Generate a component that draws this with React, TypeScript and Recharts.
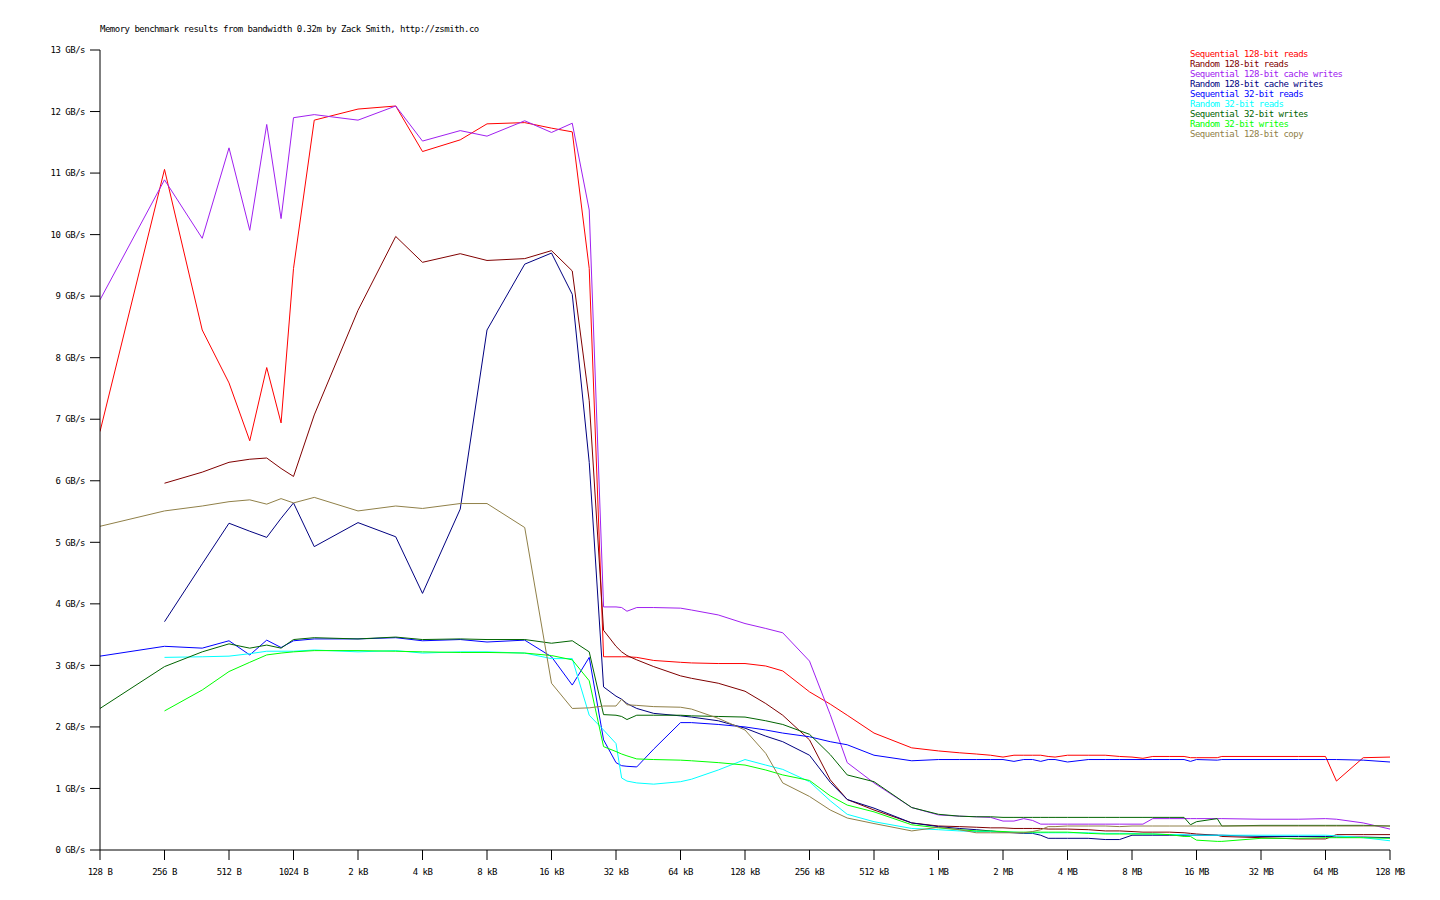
import { LineChart, Line, XAxis, YAxis } from "recharts"

const KB = 1024
const MB = 1024 * 1024

// chunk sizes used by the benchmark (bytes)
const chunkSizes = [
  128, 256, 384, 512, 640, 768, 896, 1024, 1280,
  2048, 3072, 4096, 6144, 8192, 12288, 16384, 20480, 24576, 28672, 32768,
  34 * KB, 36 * KB, 40 * KB, 48 * KB, 64 * KB, 72 * KB, 96 * KB, 128 * KB, 160 * KB, 192 * KB, 256 * KB, 320 * KB, 384 * KB, 512 * KB, 768 * KB,
  1 * MB, 1.25 * MB, 1.5 * MB, 1.75 * MB, 2 * MB, 2.25 * MB, 2.5 * MB, 2.75 * MB, 3 * MB, 3.25 * MB, 3.5 * MB, 4 * MB,
  5 * MB, 6 * MB, 7 * MB, 8 * MB, 9 * MB, 10 * MB, 12 * MB, 14 * MB, 15 * MB, 16 * MB,
  20 * MB, 21 * MB, 32 * MB, 48 * MB, 64 * MB, 72 * MB, 96 * MB, 128 * MB,
]

const xTicks = [
  128, 256, 512, 1024, 2 * KB, 4 * KB, 8 * KB, 16 * KB, 32 * KB, 64 * KB, 128 * KB, 256 * KB, 512 * KB,
  1 * MB, 2 * MB, 4 * MB, 8 * MB, 16 * MB, 32 * MB, 64 * MB, 128 * MB,
]
const xTickLabels = [
  "128 B", "256 B", "512 B", "1024 B", "2 kB", "4 kB", "8 kB", "16 kB", "32 kB", "64 kB", "128 kB", "256 kB", "512 kB",
  "1 MB", "2 MB", "4 MB", "8 MB", "16 MB", "32 MB", "64 MB", "128 MB",
]
const yTicks = [0, 1, 2, 3, 4, 5, 6, 7, 8, 9, 10, 11, 12, 13]

// GB/s
const seqRead128 = [
  6.8, 11.06, 8.45, 7.59, 6.65, 7.84, 6.94, 9.45, 11.86,
  12.04, 12.09, 11.35, 11.54, 11.8, 11.82, 11.73, 11.67, 9.45, 3.14, 3.14,
  3.14, 3.14, 3.13, 3.08, 3.05, 3.04, 3.03, 3.03, 2.99, 2.91, 2.57, 2.37, 2.19, 1.9, 1.66,
  1.61, 1.58, 1.56, 1.54, 1.51, 1.54, 1.54, 1.54, 1.54, 1.52, 1.51, 1.54,
  1.54, 1.54, 1.52, 1.51, 1.49, 1.52, 1.52, 1.52, 1.5, 1.5,
  1.5, 1.52, 1.52, 1.52, 1.52, 1.12, 1.5, 1.51,
]
const randRead128 = [
  null, 5.96, 6.14, 6.3, 6.35, 6.37, 6.2, 6.07, 7.07,
  8.77, 9.97, 9.55, 9.69, 9.58, 9.61, 9.74, 9.41, 7.3, 3.57, 3.31,
  3.22, 3.16, 3.09, 2.98, 2.83, 2.79, 2.71, 2.58, 2.38, 2.19, 1.79, 1.14, 0.82, 0.65, 0.44,
  0.39, 0.38, 0.37, 0.36, 0.36, 0.35, 0.35, 0.35, 0.35, 0.34, 0.34, 0.34,
  0.33, 0.31, 0.31, 0.3, 0.29, 0.29, 0.29, 0.28, 0.27, 0.26,
  0.24, 0.22, 0.2, 0.18, 0.18, 0.25, 0.25, 0.25,
]
const seqCacheWrite128 = [
  8.94, 10.89, 9.94, 11.41, 10.07, 11.79, 10.26, 11.9, 11.95,
  11.86, 12.09, 11.52, 11.69, 11.6, 11.85, 11.66, 11.81, 10.4, 3.95, 3.95,
  3.94, 3.88, 3.94, 3.94, 3.93, 3.9, 3.82, 3.68, 3.6, 3.53, 3.07, 2.2, 1.42, 1.09, 0.69,
  0.57, 0.55, 0.54, 0.53, 0.47, 0.47, 0.51, 0.48, 0.42, 0.42, 0.42, 0.42,
  0.42, 0.42, 0.42, 0.42, 0.42, 0.51, 0.51, 0.51, 0.51, 0.51,
  0.51, 0.51, 0.5, 0.5, 0.51, 0.5, 0.44, 0.34,
]
const randCacheWrite128 = [
  null, 3.71, 4.65, 5.31, 5.18, 5.08, 5.39, 5.64, 4.93,
  5.32, 5.09, 4.17, 5.54, 8.45, 9.52, 9.7, 9.03, 6.3, 2.65, 2.5,
  2.45, 2.38, 2.3, 2.22, 2.18, 2.16, 2.1, 1.98, 1.85, 1.76, 1.54, 1.1, 0.82, 0.68, 0.44,
  0.38, 0.35, 0.33, 0.31, 0.29, 0.28, 0.27, 0.27, 0.24, 0.19, 0.19, 0.19,
  0.19, 0.17, 0.17, 0.24, 0.24, 0.24, 0.24, 0.24, 0.24, 0.24,
  0.24, 0.24, 0.22, 0.22, 0.22, 0.21, 0.21, 0.2,
]
const seqRead32 = [
  3.15, 3.31, 3.28, 3.4, 3.17, 3.41, 3.29, 3.4, 3.43,
  3.43, 3.45, 3.4, 3.42, 3.38, 3.41, 3.14, 2.68, 3.13, 1.79, 1.42,
  1.37, 1.36, 1.35, 1.64, 2.07, 2.07, 2.04, 2.0, 1.95, 1.9, 1.84, 1.76, 1.71, 1.54, 1.45,
  1.47, 1.47, 1.47, 1.47, 1.47, 1.44, 1.47, 1.47, 1.44, 1.47, 1.47, 1.43,
  1.47, 1.47, 1.47, 1.47, 1.47, 1.47, 1.47, 1.47, 1.44, 1.47,
  1.46, 1.47, 1.47, 1.47, 1.47, 1.47, 1.46, 1.43,
]
const randRead32 = [
  null, 3.13, 3.14, 3.15, 3.19, 3.23, 3.23, 3.23, 3.25,
  3.22, 3.24, 3.2, 3.22, 3.22, 3.2, 3.11, 3.11, 2.19, 1.95, 1.73,
  1.17, 1.12, 1.09, 1.07, 1.11, 1.15, 1.3, 1.47, 1.38, 1.31, 1.11, 0.8, 0.58, 0.46, 0.35,
  0.33, 0.31, 0.3, 0.3, 0.29, 0.29, 0.28, 0.28, 0.28, 0.28, 0.28, 0.28,
  0.28, 0.27, 0.27, 0.27, 0.26, 0.26, 0.25, 0.25, 0.24, 0.24,
  0.24, 0.24, 0.24, 0.24, 0.24, 0.23, 0.2, 0.15,
]
const seqWrite32 = [
  2.3, 2.98, 3.22, 3.35, 3.28, 3.33, 3.28, 3.42, 3.45,
  3.43, 3.46, 3.42, 3.43, 3.42, 3.42, 3.36, 3.4, 3.22, 2.2, 2.19,
  2.17, 2.12, 2.19, 2.19, 2.19, 2.18, 2.17, 2.16, 2.1, 2.04, 1.88, 1.55, 1.22, 1.11, 0.69,
  0.58, 0.55, 0.54, 0.54, 0.53, 0.53, 0.53, 0.53, 0.53, 0.53, 0.53, 0.53,
  0.53, 0.53, 0.53, 0.53, 0.53, 0.53, 0.53, 0.53, 0.41, 0.46,
  0.51, 0.39, 0.4, 0.4, 0.4, 0.4, 0.4, 0.39,
]
const randWrite32 = [
  null, 2.26, 2.6, 2.9, 3.05, 3.17, 3.2, 3.22, 3.24,
  3.24, 3.23, 3.22, 3.21, 3.21, 3.2, 3.16, 3.09, 2.75, 1.68, 1.6,
  1.56, 1.53, 1.48, 1.47, 1.46, 1.45, 1.42, 1.38, 1.3, 1.22, 1.13, 0.88, 0.73, 0.62, 0.41,
  0.36, 0.33, 0.31, 0.31, 0.3, 0.29, 0.29, 0.29, 0.29, 0.29, 0.29, 0.29,
  0.27, 0.26, 0.26, 0.26, 0.26, 0.26, 0.25, 0.22, 0.22, 0.16,
  0.14, 0.14, 0.19, 0.19, 0.2, 0.2, 0.2, 0.19,
]
const copy128 = [
  5.26, 5.51, 5.59, 5.66, 5.69, 5.62, 5.71, 5.64, 5.73,
  5.51, 5.59, 5.55, 5.63, 5.63, 5.24, 2.71, 2.3, 2.31, 2.34, 2.34,
  2.45, 2.36, 2.35, 2.33, 2.32, 2.29, 2.14, 1.95, 1.57, 1.09, 0.87, 0.65, 0.52, 0.43, 0.31,
  0.37, 0.33, 0.28, 0.28, 0.28, 0.28, 0.28, 0.3, 0.33, 0.38, 0.38, 0.39,
  0.39, 0.39, 0.38, 0.39, 0.39, 0.39, 0.39, 0.39, 0.39, 0.39,
  0.39, 0.39, 0.39, 0.39, 0.39, 0.39, 0.39, 0.39,
]

const series = [
  { key: "seqRead128", name: "Sequential 128-bit reads", color: "#ff0000", values: seqRead128 },
  { key: "randRead128", name: "Random 128-bit reads", color: "#800000", values: randRead128 },
  { key: "seqCacheWrite128", name: "Sequential 128-bit cache writes", color: "#a020f0", values: seqCacheWrite128 },
  { key: "randCacheWrite128", name: "Random 128-bit cache writes", color: "#000080", values: randCacheWrite128 },
  { key: "seqRead32", name: "Sequential 32-bit reads", color: "#0000ff", values: seqRead32 },
  { key: "randRead32", name: "Random 32-bit reads", color: "#00ffff", values: randRead32 },
  { key: "seqWrite32", name: "Sequential 32-bit writes", color: "#006400", values: seqWrite32 },
  { key: "randWrite32", name: "Random 32-bit writes", color: "#00ff00", values: randWrite32 },
  { key: "copy128", name: "Sequential 128-bit copy", color: "#908048", values: copy128 },
]

const chartData = chunkSizes.map((size, i) => {
  const row: Record<string, number | null> = { size }
  series.forEach((s) => {
    row[s.key] = s.values[i] ?? null
  })
  return row
})

const font = "'DejaVu Sans Mono', monospace"
const tickStyle = { fill: "#000", fontSize: 9, fontFamily: font, letterSpacing: -0.5 }

const App = () => {
  return (
    <div style={{ position: "absolute", left: 0, top: 0, width: 1440, height: 900, background: "#fff" }}>
      <div
        style={{
          position: "absolute",
          left: 100,
          top: 24,
          fontFamily: font,
          fontSize: 9,
          lineHeight: "10px",
          letterSpacing: -0.5,
          color: "#000",
          whiteSpace: "nowrap",
        }}
      >
        Memory benchmark results from bandwidth 0.32m by Zack Smith, http://zsmith.co
      </div>
      <LineChart width={1440} height={900} data={chartData} margin={{ top: 50, right: 50, bottom: 0, left: 0 }}>
        <XAxis
          dataKey="size"
          type="number"
          scale="log"
          domain={[128, 128 * MB]}
          allowDataOverflow
          ticks={xTicks}
          tickFormatter={(v: number) => xTickLabels[xTicks.indexOf(v)] ?? ""}
          interval={0}
          height={50}
          stroke="#000"
          tickLine={{ stroke: "#000" }}
          tickSize={10}
          tickMargin={9}
          tick={tickStyle}
        />
        <YAxis
          type="number"
          domain={[0, 13]}
          ticks={yTicks}
          interval={0}
          width={100}
          stroke="#000"
          tickLine={{ stroke: "#000" }}
          tickSize={10}
          tickMargin={5}
          tick={tickStyle}
          tickFormatter={(v: number) => `${v} GB/s`}
        />
        {series.map((s) => (
          <Line
            key={s.key}
            dataKey={s.key}
            name={s.name}
            type="linear"
            stroke={s.color}
            strokeWidth={1}
            dot={false}
            activeDot={false}
            isAnimationActive={false}
          />
        ))}
      </LineChart>
      <div style={{ position: "absolute", left: 1190, top: 49, fontFamily: font, fontSize: 9, lineHeight: "10px", letterSpacing: -0.5 }}>
        {series.map((s) => (
          <div key={s.key} style={{ color: s.color, whiteSpace: "nowrap" }}>
            {s.name}
          </div>
        ))}
      </div>
    </div>
  )
}

export default App
